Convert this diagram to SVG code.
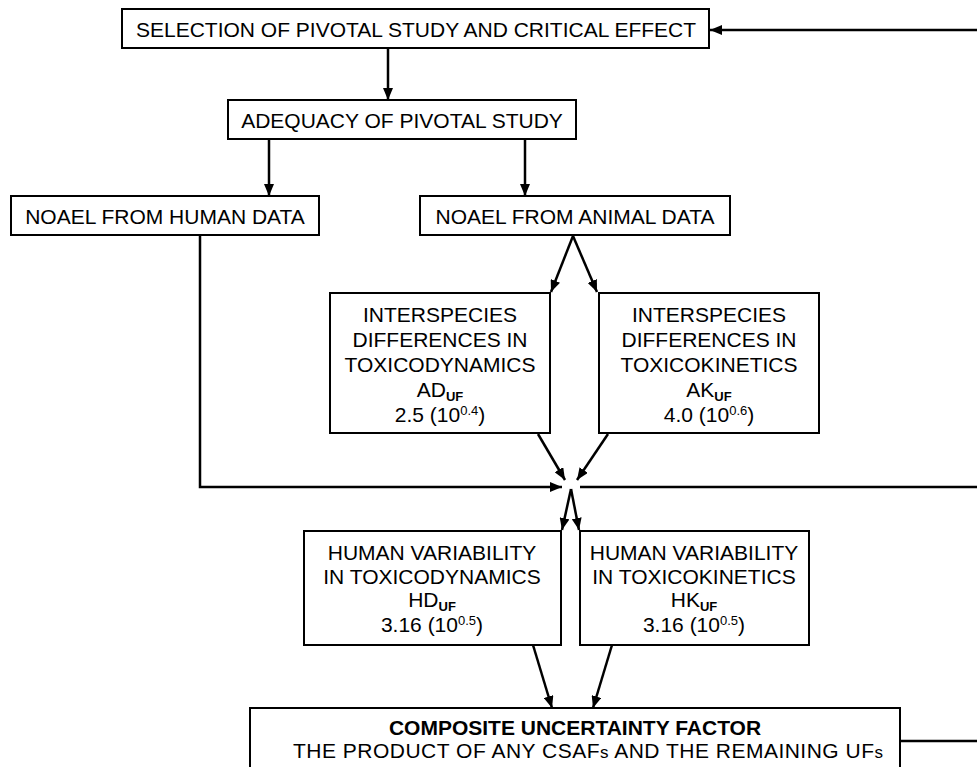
<svg xmlns="http://www.w3.org/2000/svg" width="977" height="767" viewBox="0 0 977 767">
<defs>
<marker id="ah" viewBox="0 0 12 10" refX="12" refY="5" markerWidth="12" markerHeight="10" markerUnits="userSpaceOnUse" orient="auto">
<path d="M0,0 L12,5 L0,10 Z" fill="#000"/>
</marker>
<style>
.box{fill:#fff;stroke:#000;stroke-width:2}
.t{font-family:"Liberation Sans",Arial,sans-serif;font-size:21px;fill:#000;text-anchor:middle}
.b{font-weight:bold}
.sub{font-size:13px}
.c{fill:none;stroke:#000;stroke-width:2.5}
.ca{fill:none;stroke:#000;stroke-width:2.5;marker-end:url(#ah)}
</style>
</defs>
<rect width="977" height="767" fill="#fff"/>
<g id="connectors">
<path class="ca" d="M977,30 L710,30"/>
<path class="ca" d="M388,48 L388,100"/>
<path class="ca" d="M269,139 L269,196"/>
<path class="ca" d="M525,139 L525,196"/>
<path class="ca" d="M573,236 L551,292"/>
<path class="ca" d="M573,236 L597,292"/>
<path class="ca" d="M538,434 L565,480"/>
<path class="ca" d="M608,434 L577,480"/>
<path class="ca" d="M200,236 L200,487 L562,487"/>
<path class="c" d="M580,487 L977,487"/>
<path class="ca" d="M571,489 L562,530"/>
<path class="ca" d="M571,489 L579,530"/>
<path class="ca" d="M533,645 L552,708"/>
<path class="ca" d="M612,645 L593,708"/>
<path class="c" d="M900,741 L977,741"/>
</g>
<g id="n-selection">
<rect class="box" x="122" y="9" width="587" height="39"/>
<text class="t" x="416" y="37">SELECTION OF PIVOTAL STUDY AND CRITICAL EFFECT</text>
</g>
<g id="n-adequacy">
<rect class="box" x="228" y="100" width="348" height="39"/>
<text class="t" x="402" y="128">ADEQUACY OF PIVOTAL STUDY</text>
</g>
<g id="n-human">
<rect class="box" x="11" y="196" width="308" height="39"/>
<text class="t" x="165" y="224">NOAEL FROM HUMAN DATA</text>
</g>
<g id="n-animal">
<rect class="box" x="420" y="196" width="310" height="39"/>
<text class="t" x="575" y="224">NOAEL FROM ANIMAL DATA</text>
</g>
<g id="n-ad">
<rect class="box" x="330" y="293" width="220" height="140"/>
<text class="t" x="440" y="322">INTERSPECIES</text>
<text class="t" x="440" y="347">DIFFERENCES IN</text>
<text class="t" x="440" y="372">TOXICODYNAMICS</text>
<text class="t" x="440" y="397">AD<tspan class="sub b" dy="4">UF</tspan></text>
<text class="t" x="440" y="422">2.5 (10<tspan class="sub" dy="-7">0.4</tspan><tspan dy="7">)</tspan></text>
</g>
<g id="n-ak">
<rect class="box" x="599" y="293" width="220" height="140"/>
<text class="t" x="709" y="322">INTERSPECIES</text>
<text class="t" x="709" y="347">DIFFERENCES IN</text>
<text class="t" x="709" y="372">TOXICOKINETICS</text>
<text class="t" x="709" y="397">AK<tspan class="sub b" dy="4">UF</tspan></text>
<text class="t" x="709" y="422">4.0 (10<tspan class="sub" dy="-7">0.6</tspan><tspan dy="7">)</tspan></text>
</g>
<g id="n-hd">
<rect class="box" x="304" y="531" width="257" height="114"/>
<text class="t" x="432" y="560">HUMAN VARIABILITY</text>
<text class="t" x="432" y="584">IN TOXICODYNAMICS</text>
<text class="t" x="432" y="607">HD<tspan class="sub b" dy="4">UF</tspan></text>
<text class="t" x="432" y="632">3.16 (10<tspan class="sub" dy="-7">0.5</tspan><tspan dy="7">)</tspan></text>
</g>
<g id="n-hk">
<rect class="box" x="580" y="531" width="229" height="114"/>
<text class="t" x="694" y="560">HUMAN VARIABILITY</text>
<text class="t" x="694" y="584">IN TOXICOKINETICS</text>
<text class="t" x="694" y="607">HK<tspan class="sub b" dy="4">UF</tspan></text>
<text class="t" x="694" y="632">3.16 (10<tspan class="sub" dy="-7">0.5</tspan><tspan dy="7">)</tspan></text>
</g>
<g id="n-composite">
<rect class="box" x="250" y="708" width="650" height="80"/>
<text class="t b" x="575" y="735">COMPOSITE UNCERTAINTY FACTOR</text>
<text class="t" x="588" y="758" textLength="590" lengthAdjust="spacing">THE PRODUCT OF ANY CSAF<tspan font-size="17">s</tspan> AND THE REMAINING UF<tspan font-size="17">s</tspan></text>
</g>
</svg>
